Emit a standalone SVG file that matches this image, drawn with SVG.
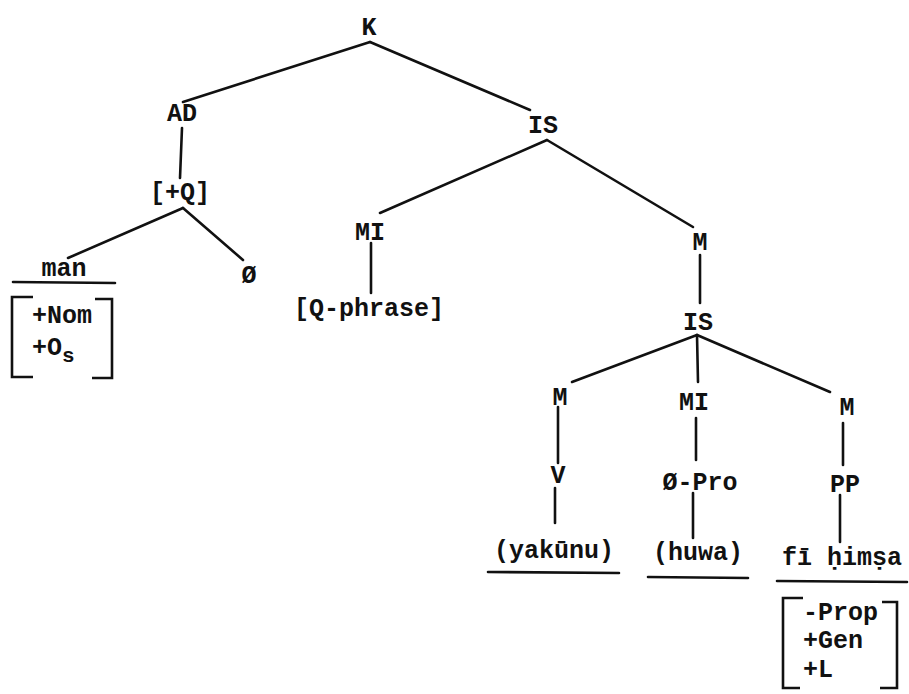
<svg xmlns="http://www.w3.org/2000/svg" width="909" height="694" viewBox="0 0 909 694">
<style>
text{font-family:"Liberation Mono","DejaVu Sans Mono",monospace;font-weight:bold;font-size:25px;fill:#111}
.c{text-anchor:middle}
.ln{stroke:#111;stroke-width:2.6;fill:none;stroke-linecap:round}
.br{stroke:#111;stroke-width:2.6;fill:none}
</style>
<rect width="909" height="694" fill="#fff"/>
<g id="connectors" class="ln">
<line x1="370" y1="42" x2="183" y2="102"/>
<line x1="370" y1="42" x2="530" y2="110"/>
<line x1="182" y1="128" x2="180" y2="178"/>
<line x1="183" y1="208" x2="68" y2="258"/>
<line x1="183" y1="208" x2="243" y2="260"/>
<line x1="547" y1="140" x2="380" y2="213"/>
<line x1="547" y1="140" x2="693" y2="227"/>
<line x1="371" y1="243" x2="371" y2="293"/>
<line x1="700" y1="255" x2="700" y2="303"/>
<line x1="697" y1="335" x2="572" y2="382"/>
<line x1="697" y1="335" x2="698" y2="382"/>
<line x1="697" y1="335" x2="830" y2="392"/>
<line x1="558" y1="407" x2="558" y2="463"/>
<line x1="555" y1="488" x2="555" y2="523"/>
<line x1="696" y1="418" x2="696" y2="460"/>
<line x1="693" y1="493" x2="693" y2="538"/>
<line x1="843" y1="423" x2="843" y2="465"/>
<line x1="840" y1="495" x2="840" y2="542"/>
</g>
<g id="K"><text class="c" x="369" y="35">K</text></g>
<g id="AD"><text class="c" x="182" y="121">AD</text></g>
<g id="IS1"><text class="c" x="543" y="133">IS</text></g>
<g id="plusQ"><text class="c" x="180" y="200">[+Q]</text></g>
<g id="man">
<text class="c" x="64" y="276">man</text>
<line class="ln" x1="13" y1="282" x2="115" y2="283"/>
<path class="br" d="M33,297 H12 V377 H33"/>
<path class="br" d="M95,299 H112 V378 H92"/>
<text x="32" y="323">+Nom</text>
<text x="32" y="355">+O<tspan dy="7" font-size="21">s</tspan></text>
</g>
<g id="null1"><text class="c" x="249" y="283">Ø</text></g>
<g id="MI1"><text class="c" x="370" y="240">MI</text></g>
<g id="Qphrase"><text class="c" x="369" y="316">[Q-phrase]</text></g>
<g id="M1"><text class="c" x="700" y="250">M</text></g>
<g id="IS2"><text class="c" x="698" y="330">IS</text></g>
<g id="M2"><text class="c" x="560" y="405">M</text></g>
<g id="MI2"><text class="c" x="694" y="410">MI</text></g>
<g id="M3"><text class="c" x="847" y="415">M</text></g>
<g id="V"><text class="c" x="558" y="483">V</text></g>
<g id="NullPro"><text class="c" x="700" y="490">Ø-Pro</text></g>
<g id="PP"><text class="c" x="845" y="492">PP</text></g>
<g id="yakunu">
<text class="c" x="554" y="558">(yakūnu)</text>
<line class="ln" x1="488" y1="572" x2="619" y2="573"/>
</g>
<g id="huwa">
<text class="c" x="698" y="560">(huwa)</text>
<line class="ln" x1="648" y1="577" x2="748" y2="578"/>
</g>
<g id="fihimsa">
<text class="c" x="842" y="565">fī ḥimṣa</text>
<line class="ln" x1="777" y1="581" x2="907" y2="582"/>
<path class="br" d="M803,598 H783 V688 H800"/>
<path class="br" d="M882,602 H897 V688 H880"/>
<text x="803" y="620">-Prop</text>
<text x="803" y="648">+Gen</text>
<text x="803" y="677">+L</text>
</g>
</svg>
